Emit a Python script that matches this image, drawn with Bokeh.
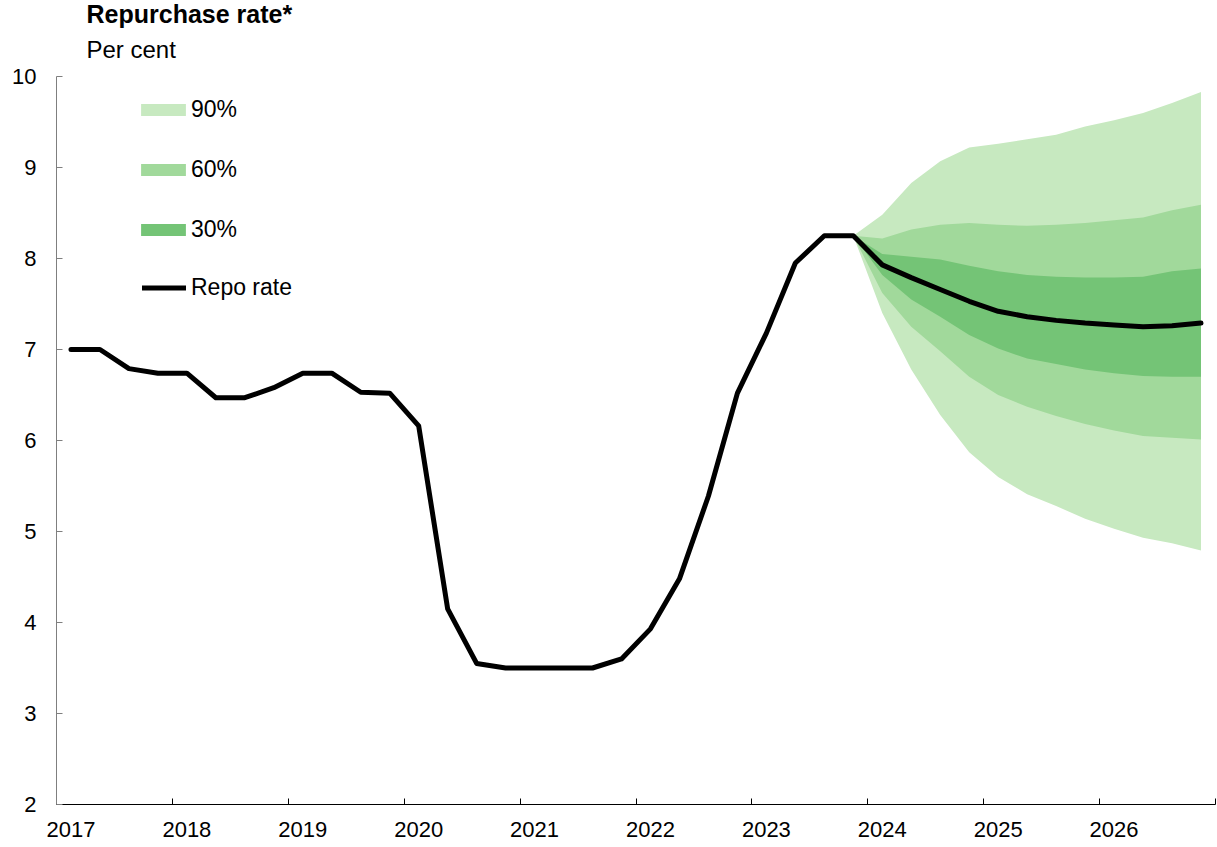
from bokeh.plotting import figure
from bokeh.models import Range1d, FixedTicker, Title, Legend, LegendItem, PrintfTickFormatter
from bokeh.embed import file_html
from bokeh.resources import INLINE

# ---------------- data ----------------
first_year = 2017
year_labels = [2017, 2018, 2019, 2020, 2021, 2022, 2023, 2024, 2025, 2026]
y_ticks = [2, 3, 4, 5, 6, 7, 8, 9, 10]

# Repo rate, quarterly, 2017Q1 .. 2023Q4 (history)
repo_hist = [7.00, 7.00, 6.79, 6.74,
             6.74, 6.47, 6.47, 6.58,
             6.74, 6.74, 6.53, 6.52,
             6.16, 4.15, 3.55, 3.50,
             3.50, 3.50, 3.50, 3.60,
             3.93, 4.48, 5.39, 6.52,
             7.18, 7.95, 8.25, 8.25]
# Repo rate forecast, 2024Q1 .. 2026Q4
repo_fcst = [7.93, 7.79, 7.66, 7.53,
             7.42, 7.36, 7.32, 7.29,
             7.27, 7.25, 7.26, 7.29]

# Fan bands, 2023Q4 .. 2026Q4
upper_90 = [8.25, 8.48, 8.83, 9.07, 9.22, 9.26, 9.31, 9.36, 9.45, 9.52, 9.60, 9.71, 9.83]
upper_60 = [8.25, 8.22, 8.32, 8.37, 8.39, 8.37, 8.36, 8.37, 8.39, 8.42, 8.45, 8.53, 8.59]
upper_30 = [8.25, 8.05, 8.02, 7.99, 7.92, 7.86, 7.82, 7.80, 7.79, 7.79, 7.80, 7.86, 7.89]
lower_30 = [8.25, 7.82, 7.55, 7.36, 7.16, 7.01, 6.90, 6.84, 6.78, 6.74, 6.71, 6.70, 6.70]
lower_60 = [8.25, 7.62, 7.25, 6.98, 6.70, 6.50, 6.37, 6.27, 6.18, 6.11, 6.05, 6.03, 6.01]
lower_90 = [8.25, 7.40, 6.78, 6.28, 5.87, 5.60, 5.41, 5.28, 5.14, 5.03, 4.93, 4.87, 4.79]

colors = {"90%": "#c7e9c0", "60%": "#a1d99b", "30%": "#74c476"}
FONT = "Liberation Sans"

# quarter mid-points on a continuous year axis
repo = repo_hist + repo_fcst
x_all = [first_year + i * 0.25 + 0.125 for i in range(len(repo))]
x_band = x_all[len(repo_hist) - 1:]

p = figure(width=1217, height=847, output_backend="svg", toolbar_location=None,
           x_range=Range1d(2017, 2027), y_range=Range1d(2, 10),
           title=None,
           min_border_left=56, min_border_right=2, min_border_top=76, min_border_bottom=43)
p.xgrid.visible = False
p.ygrid.visible = False
p.outline_line_color = None
p.background_fill_color = "white"
p.border_fill_color = "white"

r90 = p.varea(x=x_band, y1=lower_90, y2=upper_90, fill_color=colors["90%"])
r60 = p.varea(x=x_band, y1=lower_60, y2=upper_60, fill_color=colors["60%"])
r30 = p.varea(x=x_band, y1=lower_30, y2=upper_30, fill_color=colors["30%"])
rl = p.line(x=x_all, y=repo, line_color="black", line_width=5,
            line_join="round", line_cap="round")

# axes
xa = p.xaxis[0]
xa.ticker = FixedTicker(ticks=[y + 0.125 for y in year_labels],
                        minor_ticks=list(range(2017, 2028)))
xa.formatter = PrintfTickFormatter(format="%d")
xa.major_tick_line_color = None
xa.major_tick_in = 0
xa.major_tick_out = 0
xa.minor_tick_in = 6
xa.minor_tick_out = 0
xa.minor_tick_line_color = "black"
xa.axis_line_color = "black"
xa.major_label_standoff = 17
xa.major_label_text_font = FONT
xa.major_label_text_font_size = "22px"
xa.major_label_text_color = "black"

ya = p.yaxis[0]
ya.ticker = FixedTicker(ticks=y_ticks)
ya.minor_tick_line_color = None
ya.major_tick_in = 6
ya.major_tick_out = 0
ya.major_tick_line_color = "#7f7f7f"
ya.axis_line_color = "#7f7f7f"
ya.major_label_standoff = 20
ya.major_label_text_font = FONT
ya.major_label_text_font_size = "22px"
ya.major_label_text_color = "black"

# title texts (added nearest-first)
p.add_layout(Title(text="Per cent", text_font=FONT, text_font_size="24px",
                   text_font_style="normal", text_color="black",
                   align="left", offset=30, standoff=28), "above")
p.add_layout(Title(text="Repurchase rate*", text_font=FONT, text_font_size="25px",
                   text_font_style="bold", text_color="black",
                   align="left", offset=30, standoff=-16), "above")

# legends
legA = Legend(items=[LegendItem(label="90%", renderers=[r90]),
                     LegendItem(label="60%", renderers=[r60]),
                     LegendItem(label="30%", renderers=[r30])],
              location=(79, 561), orientation="vertical",
              glyph_width=56, glyph_height=15, label_height=15, spacing=33,
              padding=0, margin=0, label_standoff=0,
              border_line_color=None, background_fill_alpha=0,
              label_text_font=FONT, label_text_font_size="23px",
              label_text_color="black")
legB = Legend(items=[LegendItem(label="Repo rate", renderers=[rl])],
              location=(86, 503), orientation="vertical",
              glyph_width=44, glyph_height=15, label_height=15, spacing=0,
              padding=0, margin=0, label_standoff=5,
              border_line_color=None, background_fill_alpha=0,
              label_text_font=FONT, label_text_font_size="23px",
              label_text_color="black")
p.add_layout(legA)
p.add_layout(legB)

open("out.html", "w").write(file_html(p, INLINE))
